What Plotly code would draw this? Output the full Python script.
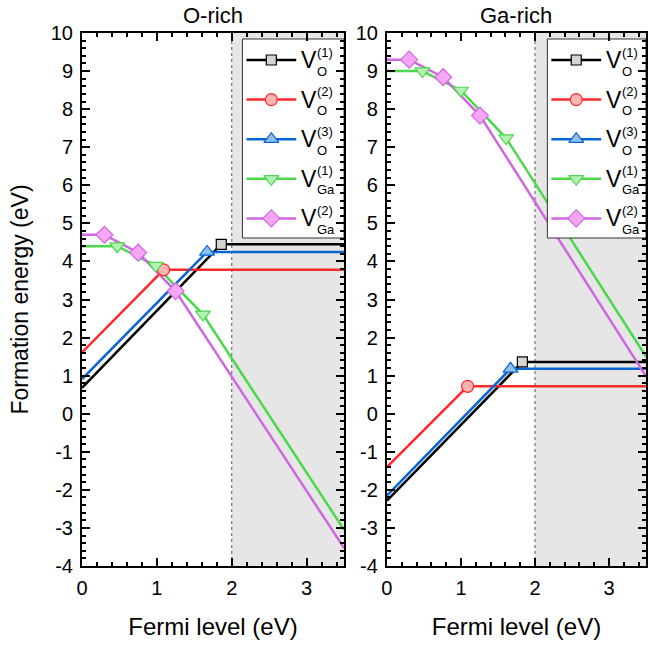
import plotly.graph_objects as go

# ---------------- data ----------------
X_MAX = 3.5
# O-rich panel: vertices of each formation-energy line (x = Fermi level, y = energy)
orich_vo1_x = [0.0, 1.86, 3.5]
orich_vo1_y = [0.68, 4.45, 4.45]
orich_vo2_x = [0.0, 1.09, 3.5]
orich_vo2_y = [1.61, 3.78, 3.78]
orich_vo3_x = [0.0, 1.67, 3.5]
orich_vo3_y = [0.91, 4.25, 4.25]
orich_vga1_x = [0.0, 0.47, 0.985, 1.615, 3.5]
orich_vga1_y = [4.40, 4.40, 3.89, 2.61, -3.05]
orich_vga2_x = [0.0, 0.30, 0.75, 1.25, 3.5]
orich_vga2_y = [4.70, 4.70, 4.23, 3.22, -3.53]

# Ga-rich panel
garich_vo1_x = [0.0, 1.83, 3.5]
garich_vo1_y = [-2.28, 1.36, 1.36]
garich_vo2_x = [0.0, 1.09, 3.5]
garich_vo2_y = [-1.40, 0.72, 0.72]
garich_vo3_x = [0.0, 1.67, 3.5]
garich_vo3_y = [-2.15, 1.18, 1.18]
garich_vga1_x = [0.0, 0.48, 1.00, 1.61, 3.5]
garich_vga1_y = [9.00, 9.00, 8.49, 7.24, 1.50]
garich_vga2_x = [0.0, 0.30, 0.76, 1.257, 3.5]
garich_vga2_y = [9.30, 9.30, 8.84, 7.83, 0.98]

# indices of vertices that carry a marker (transition levels)
marker_idx_vo = [1]
marker_idx_vga = [1, 2, 3]

series_names = ["V_O(1)", "V_O(2)", "V_O(3)", "V_Ga(1)", "V_Ga(2)"]
legend_sup = ["(1)", "(2)", "(3)", "(1)", "(2)"]
legend_sub = ["O", "O", "O", "Ga", "Ga"]

panel_titles = ["O-rich", "Ga-rich"]
x_ticks = [0, 1, 2, 3]
x_ticktext = ["0", "1", "2", "3"]
y_ticks = list(range(-4, 11))
y_ticktext = [str(v) for v in y_ticks]   # plain hyphen minus as in the original
gap_start = 2.0

# ---------------- styles ----------------
line_colors = ["#000000", "#ff2a2a", "#0a64d2", "#4cd84c", "#d066e0"]
fill_colors = ["#d4d4d4", "#ffb4b4", "#8fbff0", "#b4f2b4", "#f6a6f6"]
symbols = ["square", "circle", "triangle-up", "triangle-down", "diamond"]
msizes = [10, 12, 13, 13, 13]
FONT = "Arial, Liberation Sans, Helvetica, sans-serif"

W, H = 648, 646
ML, MR, MT, MB = 82, 0, 33, 80
PLOT_W = W - ML - MR
PLOT_H = H - MT - MB
left_px = (0, 263)
right_px = (306, PLOT_W)

fig = go.Figure()

panels = [
    dict(xa="x", ya="y", px=left_px,
         data=[(orich_vo1_x, orich_vo1_y), (orich_vo2_x, orich_vo2_y), (orich_vo3_x, orich_vo3_y),
               (orich_vga1_x, orich_vga1_y), (orich_vga2_x, orich_vga2_y)]),
    dict(xa="x2", ya="y2", px=right_px,
         data=[(garich_vo1_x, garich_vo1_y), (garich_vo2_x, garich_vo2_y), (garich_vo3_x, garich_vo3_y),
               (garich_vga1_x, garich_vga1_y), (garich_vga2_x, garich_vga2_y)]),
]

annotations = []
shapes = []

for p in panels:
    pw = p["px"][1] - p["px"][0]

    def dx(px, pw=pw):
        return px / pw * X_MAX

    def dy(py):
        return 10 - py / PLOT_H * 14

    # data lines
    for i, (xs, ys) in enumerate(p["data"]):
        fig.add_trace(go.Scatter(x=xs, y=ys, mode="lines", xaxis=p["xa"], yaxis=p["ya"],
                                 line=dict(color=line_colors[i], width=2.5), showlegend=False,
                                 hoverinfo="skip"))
    for i, (xs, ys) in enumerate(p["data"]):
        idx = marker_idx_vo if i < 3 else marker_idx_vga
        fig.add_trace(go.Scatter(x=[xs[k] for k in idx], y=[ys[k] for k in idx], mode="markers",
                                 xaxis=p["xa"], yaxis=p["ya"], showlegend=False,
                                 marker=dict(symbol=symbols[i], size=msizes[i], color=fill_colors[i],
                                             line=dict(color=line_colors[i], width=1.2))))
    # legend box
    bx0, bx1, by0, by1 = dx(161), X_MAX, dy(6), dy(205)
    fig.add_trace(go.Scatter(x=[bx0, bx1, bx1, bx0, bx0], y=[by0, by0, by1, by1, by0], mode="lines",
                             fill="toself", fillcolor="white", line=dict(color="#333333", width=1),
                             xaxis=p["xa"], yaxis=p["ya"], showlegend=False, hoverinfo="skip"))
    for i in range(5):
        yc = dy(27 + 39.6 * i)
        fig.add_trace(go.Scatter(x=[dx(165), dx(215)], y=[yc, yc], mode="lines",
                                 line=dict(color=line_colors[i], width=2.5), xaxis=p["xa"], yaxis=p["ya"],
                                 showlegend=False, hoverinfo="skip"))
        fig.add_trace(go.Scatter(x=[dx(190)], y=[yc], mode="markers", xaxis=p["xa"], yaxis=p["ya"],
                                 showlegend=False, hoverinfo="skip",
                                 marker=dict(symbol=symbols[i], size=msizes[i], color=fill_colors[i],
                                             line=dict(color=line_colors[i], width=1.2))))
        annotations.append(dict(x=dx(218), y=yc, xref=p["xa"], yref=p["ya"], text="V", showarrow=False,
                                xanchor="left", yanchor="middle", font=dict(size=23, color="black", family=FONT)))
        annotations.append(dict(x=dx(234), y=dy(27 + 39.6 * i - 8), xref=p["xa"], yref=p["ya"],
                                text=legend_sup[i], showarrow=False, xanchor="left", yanchor="middle",
                                font=dict(size=13, color="black", family=FONT)))
        annotations.append(dict(x=dx(234), y=dy(27 + 39.6 * i + 11), xref=p["xa"], yref=p["ya"],
                                text=legend_sub[i], showarrow=False, xanchor="left", yanchor="middle",
                                font=dict(size=13, color="black", family=FONT)))
    # shaded region beyond the gap
    shapes.append(dict(type="rect", xref=p["xa"], yref=p["ya"], x0=gap_start, x1=X_MAX, y0=-4, y1=10,
                       fillcolor="#e6e6e6", line=dict(width=0), layer="below"))
    shapes.append(dict(type="line", xref=p["xa"], yref=p["ya"], x0=gap_start, x1=gap_start, y0=-4, y1=10,
                       line=dict(color="#555555", width=1, dash="dot"), layer="below"))

for k, t in enumerate(panel_titles):
    xa = "x" if k == 0 else "x2"
    annotations.append(dict(x=0.5, y=1, xref=f"{xa} domain", yref="paper", yshift=3, text=t,
                            showarrow=False, xanchor="center", yanchor="bottom",
                            font=dict(size=22, color="black", family=FONT)))

axis_common = dict(showline=True, linewidth=2, linecolor="black", mirror="allticks",
                   ticks="inside", ticklen=8, tickwidth=2, tickcolor="black",
                   showgrid=False, zeroline=False, ticklabelstandoff=3,
                   tickfont=dict(size=20, color="black", family=FONT))
xcommon = dict(axis_common, range=[0, X_MAX], tickvals=x_ticks, ticktext=x_ticktext,
               minor=dict(dtick=0.2, ticks="inside", ticklen=4, tickwidth=2, tickcolor="black"),
               title=dict(text="Fermi level (eV)", font=dict(size=24, color="black", family=FONT), standoff=20))
ycommon = dict(axis_common, range=[-4, 10], tickvals=y_ticks, ticktext=y_ticktext,
               minor=dict(dtick=0.2, ticks="inside", ticklen=4, tickwidth=2, tickcolor="black"))

fig.update_layout(
    width=W, height=H,
    margin=dict(l=ML, r=MR, t=MT, b=MB),
    paper_bgcolor="white", plot_bgcolor="white",
    showlegend=False,
    xaxis=dict(xcommon, domain=[left_px[0] / PLOT_W, left_px[1] / PLOT_W], anchor="y"),
    xaxis2=dict(xcommon, domain=[right_px[0] / PLOT_W, 1.0], anchor="y2"),
    yaxis=dict(ycommon, anchor="x",
               title=dict(text="Formation energy (eV)", font=dict(size=23, color="black", family=FONT), standoff=16)),
    yaxis2=dict(ycommon, anchor="x2"),
    annotations=annotations,
    shapes=shapes,
    font=dict(family=FONT, color="black"),
)

# remove the default 8px page margin so the figure sits at the window's top-left corner
fig.write_html("out.html", config={"displayModeBar": False},
               post_script="document.body.style.margin='0px';")
